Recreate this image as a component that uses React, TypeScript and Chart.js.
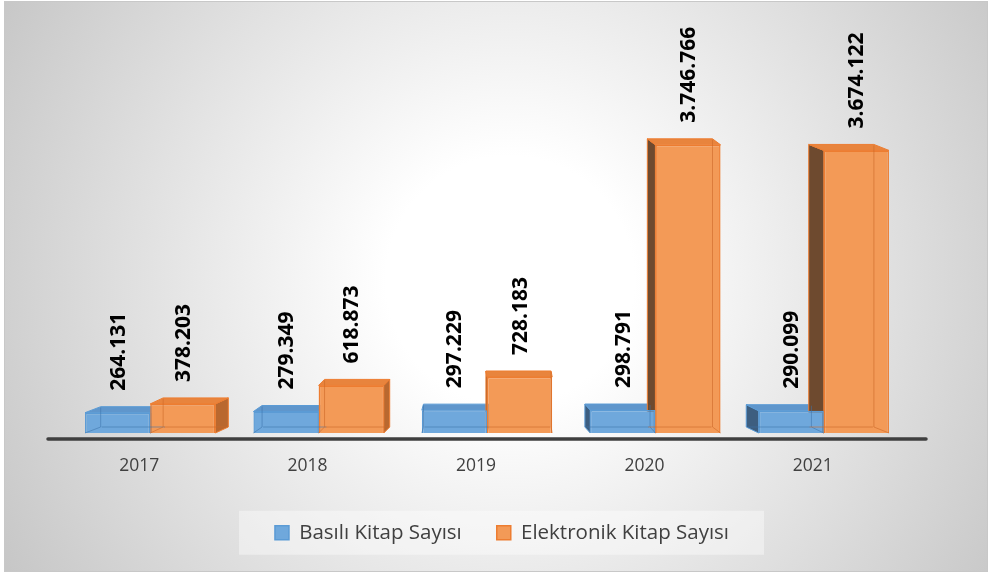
import React, { useEffect, useRef } from 'react';
import { Chart, registerables } from 'chart.js';

Chart.register(...registerables);

const categories = ['2017', '2018', '2019', '2020', '2021'];
const printedBooks = [264131, 279349, 297229, 298791, 290099];
const electronicBooks = [378203, 618873, 728183, 3746766, 3674122];
const seriesNames = ['Basılı Kitap Sayısı', 'Elektronik Kitap Sayısı'];
const yMax = 5500000;

const palettes = [
  { front: '#6fa8dc', border: '#5b9bd5', top: '#5f96cc', sideRight: '#4d82b5', sideLeft: '#3d5e80', edge: 'rgba(60,115,170,0.55)' },
  { front: '#f39a57', border: '#ed7d31', top: '#e8843d', sideRight: '#b9682f', sideLeft: '#6e4a2f', edge: 'rgba(205,105,40,0.6)' },
];

const VP = 494;
const K = 0.0416;
const DEPTH = 6;

const fmt = (v: number) => String(v).replace(/\B(?=(\d{3})+(?!\d))/g, '.');

function barGeom(el: any) {
  const p = el.getProps(['x', 'y', 'base', 'width'], true);
  const l = p.x - p.width / 2;
  const r = p.x + p.width / 2;
  const dx = (VP - p.x) * K;
  return { ...p, l, r, dx };
}

const bgPlugin = {
  id: 'bg3d',
  beforeDraw(chart: any) {
    const { ctx, width, height } = chart;
    ctx.save();
    ctx.fillStyle = '#ffffff';
    ctx.fillRect(0, 0, width, height);
    const g = ctx.createRadialGradient(510, 280, 0, 510, 280, 620);
    g.addColorStop(0, '#ffffff');
    g.addColorStop(0.2, '#ffffff');
    g.addColorStop(1, '#c2c2c2');
    ctx.fillStyle = g;
    ctx.fillRect(4, 1, 984, 571);
    ctx.strokeStyle = '#c8c8c8';
    ctx.lineWidth = 1;
    ctx.strokeRect(4.5, 1.5, 983, 570);
    const lg = chart.legend;
    if (lg && lg.legendHitBoxes && lg.legendHitBoxes.length) {
      const hb = lg.legendHitBoxes;
      const first = hb[0];
      const last = hb[hb.length - 1];
      const cy = first.top + first.height / 2;
      const l = first.left - 36;
      const r = last.left + last.width + 35;
      ctx.fillStyle = 'rgba(255,255,255,0.4)';
      ctx.fillRect(l, cy - 22, r - l, 44);
    }
    ctx.restore();
  },
  beforeDatasetsDraw(chart: any) {
    const { ctx, chartArea } = chart;
    ctx.save();
    ctx.strokeStyle = '#3f3f3f';
    ctx.lineWidth = 3.5;
    ctx.lineCap = 'round';
    ctx.beginPath();
    ctx.moveTo(chartArea.left - 18, chartArea.bottom + 6);
    ctx.lineTo(chartArea.right + 18, chartArea.bottom + 6);
    ctx.stroke();
    ctx.lineCap = 'butt';
    chart.data.datasets.forEach((ds: any, di: number) => {
      const meta = chart.getDatasetMeta(di);
      const pal = palettes[di];
      meta.data.forEach((el: any) => {
        const { y, base, l, r, dx } = barGeom(el);
        ctx.lineWidth = 1;
        ctx.strokeStyle = pal.border;
        ctx.beginPath();
        if (dx >= 0) {
          ctx.moveTo(r, y);
          ctx.lineTo(r + dx, y - DEPTH);
          ctx.lineTo(r + dx, base - DEPTH);
          ctx.lineTo(r, base);
          ctx.fillStyle = pal.sideRight;
        } else {
          ctx.moveTo(l, y);
          ctx.lineTo(l + dx, y - DEPTH);
          ctx.lineTo(l + dx, base - DEPTH);
          ctx.lineTo(l, base);
          ctx.fillStyle = pal.sideLeft;
        }
        ctx.closePath();
        ctx.fill();
        ctx.stroke();
        ctx.beginPath();
        ctx.moveTo(l, y);
        ctx.lineTo(r, y);
        ctx.lineTo(r + dx, y - DEPTH);
        ctx.lineTo(l + dx, y - DEPTH);
        ctx.closePath();
        ctx.fillStyle = pal.top;
        ctx.fill();
        ctx.stroke();
      });
    });
    ctx.restore();
  },
  afterDatasetsDraw(chart: any) {
    const { ctx } = chart;
    ctx.save();
    chart.data.datasets.forEach((ds: any, di: number) => {
      const meta = chart.getDatasetMeta(di);
      const pal = palettes[di];
      meta.data.forEach((el: any, i: number) => {
        const { x, y, base, l, r, dx } = barGeom(el);
        ctx.strokeStyle = pal.edge;
        ctx.lineWidth = 1;
        ctx.beginPath();
        const bx = dx >= 0 ? l + dx : r + dx;
        const fx = dx >= 0 ? l : r;
        ctx.moveTo(bx, y - DEPTH + 1);
        ctx.lineTo(bx, base - DEPTH);
        ctx.moveTo(l + dx + 1, base - DEPTH);
        ctx.lineTo(r + dx - 1, base - DEPTH);
        ctx.moveTo(fx, base);
        ctx.lineTo(bx, base - DEPTH);
        ctx.stroke();
        const v = ds.data[i];
        ctx.save();
        ctx.translate(x, y - 22);
        ctx.rotate(-Math.PI / 2);
        ctx.fillStyle = '#000000';
        ctx.font = 'bold 21px "Open Sans"';
        ctx.textAlign = 'left';
        ctx.textBaseline = 'middle';
        ctx.fillText(fmt(v), 0, 1);
        ctx.restore();
      });
    });
    ctx.restore();
  },
};

export default function App() {
  const ref = useRef<HTMLCanvasElement | null>(null);
  useEffect(() => {
    const prevMargin = document.body.style.margin;
    document.body.style.margin = '0';
    if (!ref.current) return;
    const chart = new Chart(ref.current, {
      type: 'bar',
      data: {
        labels: categories,
        datasets: [
          {
            label: seriesNames[0],
            data: printedBooks,
            backgroundColor: palettes[0].front,
            borderColor: palettes[0].border,
            borderWidth: 1.5,
            barPercentage: 1,
            categoryPercentage: 0.774,
          },
          {
            label: seriesNames[1],
            data: electronicBooks,
            backgroundColor: palettes[1].front,
            borderColor: palettes[1].border,
            borderWidth: 1.5,
            barPercentage: 1,
            categoryPercentage: 0.774,
          },
        ],
      },
      options: {
        responsive: false,
        animation: false,
        devicePixelRatio: 1,
        layout: { padding: { left: 66, right: 53, top: 10, bottom: 21 } },
        plugins: {
          tooltip: { enabled: false },
          title: { display: false },
          legend: {
            display: true,
            position: 'bottom',
            labels: {
              boxWidth: 14,
              boxHeight: 14,
              padding: 35,
              color: '#404040',
              font: { family: '"Open Sans"', size: 20.5 },
            },
          },
        },
        scales: {
          x: {
            type: 'category',
            offset: true,
            grid: { display: false, drawTicks: false },
            border: { display: false },
            ticks: {
              color: '#404040',
              font: { family: '"Open Sans"', size: 17.5 },
              padding: 23,
              labelOffset: -11,
            },
            afterFit: (s: any) => {
              s.height = 54.5;
            },
          },
          y: {
            type: 'linear',
            position: 'right',
            min: 0,
            max: yMax,
            grid: { display: false, drawTicks: false },
            border: { display: false },
            ticks: { display: false },
            afterFit: (s: any) => {
              s.width = 30;
            },
          },
        },
      },
      plugins: [bgPlugin],
    } as any);
    return () => {
      chart.destroy();
      document.body.style.margin = prevMargin;
    };
  }, []);
  return (
    <div style={{ position: 'fixed', left: 0, top: 0, width: 991, height: 574 }}>
      <canvas ref={ref} width={991} height={574} style={{ display: 'block', width: 991, height: 574 }} />
    </div>
  );
}
